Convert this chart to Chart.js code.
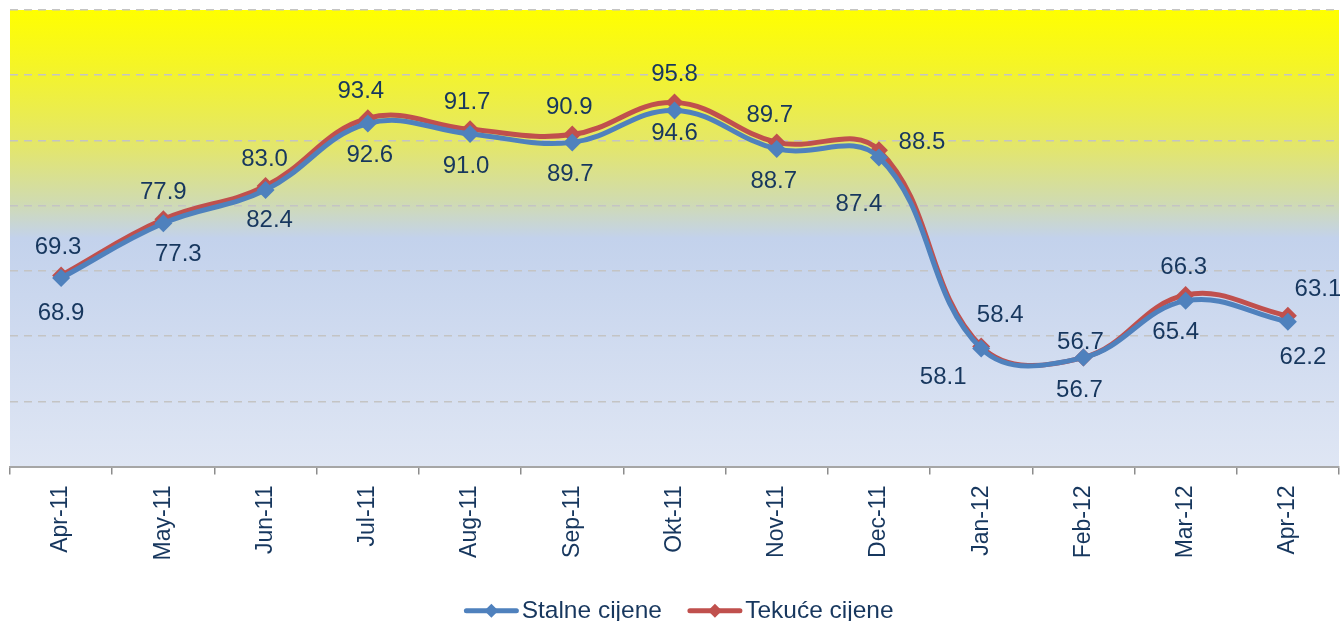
<!DOCTYPE html>
<html>
<head>
<meta charset="utf-8">
<script src="https://cdn.jsdelivr.net/npm/chart.js@4/dist/chart.umd.min.js"></script>
<style>
  html, body { margin: 0; padding: 0; background: #fff; overflow: hidden; }
  #wrap { width: 1348px; height: 621px; position: relative; }
</style>
</head>
<body>
<div id="wrap"><canvas id="myChart"></canvas></div>
<script>
const labels = ['Apr-11', 'May-11', 'Jun-11', 'Jul-11', 'Aug-11', 'Sep-11', 'Okt-11', 'Nov-11', 'Dec-11', 'Jan-12', 'Feb-12', 'Mar-12', 'Apr-12'];
const stalne = [68.9, 77.3, 82.4, 92.6, 91.0, 89.7, 94.6, 88.7, 87.4, 58.1, 56.7, 65.4, 62.2];
const tekuce = [69.3, 77.9, 83.0, 93.4, 91.7, 90.9, 95.8, 89.7, 88.5, 58.4, 56.7, 66.3, 63.1];

const textColor = '#17375E';
const fontFam = '"Liberation Sans", Arial, sans-serif';

// label nudges (dx, dy from the point), per dataset
const labelShift = [
  [[0, 35], [15, 31], [4, 30], [2, 32], [-4, 32], [-2, 32], [0, 23], [-3, 32], [-20, 47], [-38, 29], [-4, 33], [-10, 32], [15, 36]],
  [[-3, -28], [0, -27], [-1, -27], [-7, -27], [-3, -27], [-3, -27], [0, -28], [-7, -27], [43, -8], [19, -31], [-3, -15], [-2, -28], [30, -26]]
];

const bgPlugin = {
  id: 'bg',
  beforeDraw(chart) {
    const { ctx, chartArea: a } = chart;
    const g = ctx.createLinearGradient(0, a.top, 0, a.bottom);
    g.addColorStop(0, '#ffff00');
    g.addColorStop(0.12, '#f5f526');
    g.addColorStop(0.3, '#e3e66c');
    g.addColorStop(0.42, '#d0dbb0');
    g.addColorStop(0.5, '#c3d2ec');
    g.addColorStop(1, '#dfe6f4');
    ctx.save();
    ctx.fillStyle = g;
    ctx.fillRect(a.left, a.top, a.right - a.left, a.bottom - a.top);
    ctx.restore();
  }
};

const labelPlugin = {
  id: 'valueLabels',
  afterDatasetsDraw(chart) {
    const ctx = chart.ctx;
    ctx.save();
    ctx.font = '24px ' + fontFam;
    ctx.fillStyle = textColor;
    ctx.textAlign = 'center';
    ctx.textBaseline = 'middle';
    chart.data.datasets.forEach((ds, i) => {
      chart.getDatasetMeta(i).data.forEach((pt, j) => {
        const s = labelShift[i][j];
        ctx.fillText(ds.data[j].toFixed(1), pt.x + s[0], pt.y + s[1]);
      });
    });
    ctx.restore();
  }
};

// legend: line with a diamond in the middle
const legendMarks = {
  id: 'legendMarks',
  afterDraw(chart) {
    const lg = chart.legend;
    if (!lg || !lg.legendHitBoxes) return;
    const ctx = chart.ctx;
    ctx.save();
    lg.legendHitBoxes.forEach((b, i) => {
      const col = chart.data.datasets[i].borderColor;
      const x0 = b.left, x1 = b.left + 54, cy = b.top + b.height / 2;
      const cx = (x0 + x1) / 2;
      ctx.fillStyle = '#fff';
      ctx.fillRect(x0 - 5, cy - 9, 55, 18);
      ctx.strokeStyle = col;
      ctx.lineWidth = 5;
      ctx.lineCap = 'round';
      ctx.beginPath();
      ctx.moveTo(x0 + 2, cy);
      ctx.lineTo(x1 - 2, cy);
      ctx.stroke();
      ctx.fillStyle = col;
      ctx.beginPath();
      ctx.moveTo(cx, cy - 7);
      ctx.lineTo(cx + 7, cy);
      ctx.lineTo(cx, cy + 7);
      ctx.lineTo(cx - 7, cy);
      ctx.closePath();
      ctx.fill();
    });
    ctx.restore();
  }
};

const data = {
  labels: labels,
  datasets: [{
    label: 'Stalne cijene',
    data: stalne,
    borderColor: '#4F81BD',
    backgroundColor: '#4F81BD',
    borderWidth: 5,
    tension: 0.4,
    pointStyle: 'rectRot',
    pointRadius: 9,
    pointHoverRadius: 9,
    pointBorderWidth: 0
  }, {
    label: 'Tekuće cijene',
    data: tekuce,
    borderColor: '#C0504D',
    backgroundColor: '#C0504D',
    borderWidth: 5,
    tension: 0.4,
    pointStyle: 'rectRot',
    pointRadius: 9,
    pointHoverRadius: 9,
    pointBorderWidth: 0
  }]
};

const config = {
  type: 'line',
  data: data,
  plugins: [bgPlugin, labelPlugin, legendMarks],
  options: {
    responsive: true,
    maintainAspectRatio: false,
    animation: false,
    layout: { padding: { left: 10, right: 0, top: 10, bottom: -12 } },
    scales: {
      x: {
        offset: true,
        afterFit(scale) {
          scale.height = 106;
        },
        grid: {
          offset: true,
          drawOnChartArea: false,
          drawTicks: true,
          tickLength: 8,
          color: '#8c8c8c',
          lineWidth: 1.5
        },
        border: { color: '#a6a6a6', width: 2 },
        ticks: {
          color: textColor,
          font: { family: fontFam, size: 23 },
          minRotation: 90,
          maxRotation: 90,
          padding: 11
        }
      },
      y: {
        min: 40,
        max: 110,
        ticks: { stepSize: 10, display: false },
        border: { display: false, dash: [8, 6] },
        grid: { color: '#c4c4c4', lineWidth: 1.5, drawTicks: false }
      }
    },
    plugins: {
      legend: {
        position: 'bottom',
        labels: {
          color: textColor,
          font: { family: fontFam, size: 24.5 },
          boxWidth: 45,
          boxHeight: 5,
          padding: 26
        }
      },
      tooltip: { enabled: false }
    }
  }
};

const myChart = new Chart(document.getElementById('myChart'), config);
</script>
</body>
</html>
